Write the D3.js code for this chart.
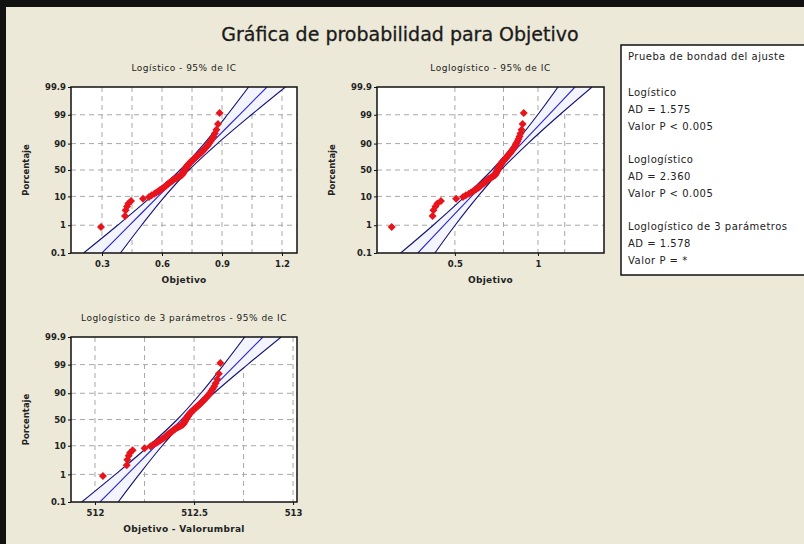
<!DOCTYPE html>
<html>
<head>
<meta charset="utf-8">
<script src="https://cdn.jsdelivr.net/npm/d3@7"></script>
<style>
  body { margin: 0; background: #ece9d8; }
  text { font-family: "DejaVu Sans", sans-serif; }
</style>
</head>
<body>
<div id="chart"></div>
<script>
// percent scale ticks
const pctTicks = [0.1, 1, 10, 50, 90, 99, 99.9];
const pctLabels = ["0.1", "1", "10", "50", "90", "99", "99.9"];

// sample values (sorted)
const objetivo = [
  0.295, 0.415, 0.418, 0.425, 0.432, 0.445, 0.505, 0.535, 0.548, 0.562,
  0.572, 0.582, 0.590, 0.598, 0.606, 0.612, 0.618, 0.622, 0.628, 0.633,
  0.638, 0.643, 0.648, 0.652, 0.657, 0.662, 0.668, 0.674, 0.680, 0.686,
  0.692, 0.698, 0.700, 0.702, 0.704, 0.705, 0.707, 0.709, 0.710, 0.712,
  0.714, 0.716, 0.718, 0.720, 0.722, 0.724, 0.726, 0.728, 0.730, 0.733,
  0.736, 0.739, 0.742, 0.745, 0.749, 0.753, 0.757, 0.761, 0.765, 0.769,
  0.773, 0.778, 0.783, 0.788, 0.793, 0.798, 0.803, 0.808, 0.813, 0.819,
  0.825, 0.831, 0.837, 0.843, 0.850, 0.857, 0.864, 0.872, 0.880, 0.888
];
const valorUmbral = -511.745;

// fitted line and 95% CI, read at the percent ticks
const logCenter = [0.300, 0.438, 0.581, 0.7125, 0.844, 0.987, 1.125];
const logLeft   = [0.208, 0.378, 0.548, 0.6905, 0.811, 0.927, 1.033];
const logRight  = [0.392, 0.498, 0.614, 0.7345, 0.877, 1.047, 1.217];

const llCenter = [0.367, 0.457, 0.574, 0.707, 0.871, 1.094, 1.362];
const llLeft   = [0.318, 0.417, 0.544, 0.681, 0.825, 0.998, 1.182];
const llRight  = [0.423, 0.501, 0.606, 0.734, 0.919, 1.199, 1.570];

const ll3Center = [512.025, 512.163, 512.306, 512.437, 512.567, 512.710, 512.848];
const ll3Left   = [511.933, 512.103, 512.273, 512.415, 512.534, 512.650, 512.756];
const ll3Right  = [512.117, 512.223, 512.339, 512.459, 512.600, 512.770, 512.940];

// goodness of fit box
const gofLines = [
  "Prueba de bondad del ajuste", "",
  "Logístico", "AD = 1.575", "Valor P < 0.005", "",
  "Loglogístico", "AD = 2.360", "Valor P < 0.005", "",
  "Loglogístico de 3 parámetros", "AD = 1.578", "Valor P = *"
];

const W = 804, H = 544;
const svg = d3.select("#chart").append("svg")
  .attr("width", W)
  .attr("height", H);

svg.append("rect").attr("width", W).attr("height", H).attr("fill", "#ece9d8");
// dark frame on top / left
svg.append("rect").attr("x", 0).attr("y", 0).attr("width", W).attr("height", 7).attr("fill", "#111");
svg.append("rect").attr("x", 0).attr("y", 0).attr("width", 6).attr("height", H).attr("fill", "#111");

svg.append("text")
  .attr("x", 400)
  .attr("y", 41)
  .attr("text-anchor", "middle")
  .style("font-size", "19px")
  .attr("fill", "#1a1a1a")
  .attr("stroke", "#1a1a1a")
  .attr("stroke-width", 0.3)
  .text("Gráfica de probabilidad para Objetivo");

const logit = p => Math.log(p / (1 - p));
const n = objetivo.length;
const rankPct = objetivo.map((v, i) => (i + 1 - 0.3) / (n + 0.4));

function drawPanel(cfg, idx) {
  const { x0, x1, y0, y1 } = cfg.box;
  const x = cfg.xScale.range([x0, x1]);
  const y = d3.scaleLinear()
    .domain([logit(0.001), logit(0.999)])
    .range([y1, y0]);

  const g = svg.append("g");

  g.append("rect")
    .attr("x", x0).attr("y", y0)
    .attr("width", x1 - x0).attr("height", y1 - y0)
    .attr("fill", "#fff");

  const clipId = "clip" + idx;
  svg.append("clipPath").attr("id", clipId)
    .append("rect")
    .attr("x", x0).attr("y", y0)
    .attr("width", x1 - x0).attr("height", y1 - y0);

  // grid
  g.selectAll(".hgrid")
    .data(pctTicks.slice(1, -1))
    .enter().append("line")
    .attr("x1", x0).attr("x2", x1)
    .attr("y1", d => y(logit(d / 100)))
    .attr("y2", d => y(logit(d / 100)))
    .attr("stroke", "#a8a8a8")
    .attr("stroke-dasharray", "5,4");

  g.selectAll(".vgrid")
    .data(cfg.xGrid)
    .enter().append("line")
    .attr("x1", d => x(d)).attr("x2", d => x(d))
    .attr("y1", y0).attr("y2", y1)
    .attr("stroke", "#a8a8a8")
    .attr("stroke-dasharray", "5,4");

  const fit = pctTicks.map((p, i) => ({
    p: p,
    c: cfg.center[i],
    l: cfg.left[i],
    r: cfg.right[i]
  }));

  const inner = g.append("g").attr("clip-path", `url(#${clipId})`);

  inner.append("path")
    .datum(fit)
    .attr("fill", "#f4f4ff")
    .attr("d", d3.area()
      .y(d => y(logit(d.p / 100)))
      .x0(d => x(d.l))
      .x1(d => x(d.r))
      .curve(d3.curveCatmullRom));

  ["l", "r", "c"].forEach(k => {
    inner.append("path")
      .datum(fit)
      .attr("fill", "none")
      .attr("stroke", k === "c" ? "#2626c8" : "#121270")
      .attr("stroke-width", 1.1)
      .attr("d", d3.line()
        .x(d => x(d[k]))
        .y(d => y(logit(d.p / 100)))
        .curve(d3.curveCatmullRom));
  });

  // points
  inner.selectAll(".pt")
    .data(cfg.values)
    .enter().append("path")
    .attr("transform", (d, i) => `translate(${x(d)},${y(logit(rankPct[i]))}) rotate(45)`)
    .attr("d", d3.symbol().type(d3.symbolSquare).size(32))
    .attr("fill", "#e8141c");

  // box
  g.append("rect")
    .attr("x", x0).attr("y", y0)
    .attr("width", x1 - x0).attr("height", y1 - y0)
    .attr("fill", "none")
    .attr("stroke", "#111")
    .attr("stroke-width", 1.5);

  // axes
  const yAxis = g.append("g")
    .attr("transform", `translate(${x0},0)`)
    .call(d3.axisLeft(y)
      .tickValues(pctTicks.map(p => logit(p / 100)))
      .tickFormat((d, i) => pctLabels[i])
      .tickSize(3)
      .tickPadding(2));
  yAxis.select(".domain").remove();

  const xAxis = g.append("g")
    .attr("transform", `translate(0,${y1})`)
    .call(d3.axisBottom(x)
      .tickValues(cfg.xTicks)
      .tickFormat((d, i) => cfg.xLabels[i])
      .tickSize(3)
      .tickPadding(5));
  xAxis.select(".domain").remove();

  g.selectAll(".tick text")
    .style("font-size", "8.5px")
    .style("font-weight", "bold")
    .attr("fill", "#222");
  g.selectAll(".tick line").attr("stroke", "#111");

  // titles
  g.append("text")
    .attr("x", (x0 + x1) / 2)
    .attr("y", y0 - 16)
    .attr("text-anchor", "middle")
    .style("font-size", "9px")
    .style("letter-spacing", "0.5px")
    .attr("fill", "#222")
    .text(cfg.title);

  g.append("text")
    .attr("x", (x0 + x1) / 2)
    .attr("y", y1 + 30)
    .attr("text-anchor", "middle")
    .style("font-size", "9px")
    .style("font-weight", "bold")
    .style("letter-spacing", "0.3px")
    .attr("fill", "#222")
    .text(cfg.xTitle);

  g.append("text")
    .attr("transform", "rotate(-90)")
    .attr("x", -(y0 + y1) / 2)
    .attr("y", x0 - 42)
    .attr("text-anchor", "middle")
    .style("font-size", "8.5px")
    .style("font-weight", "bold")
    .attr("fill", "#222")
    .text("Porcentaje");
}

drawPanel({
  box: { x0: 71, x1: 297, y0: 87, y1: 253 },
  xScale: d3.scaleLinear().domain([0.145, 1.275]),
  xTicks: [0.3, 0.6, 0.9, 1.2],
  xLabels: ["0.3", "0.6", "0.9", "1.2"],
  xGrid: [0.3, 0.45, 0.6, 0.75, 0.9, 1.05, 1.2],
  title: "Logístico - 95% de IC",
  xTitle: "Objetivo",
  values: objetivo,
  center: logCenter, left: logLeft, right: logRight
}, 1);

drawPanel({
  box: { x0: 377, x1: 604, y0: 87, y1: 253 },
  xScale: d3.scaleLog().domain([0.261, 1.735]),
  xTicks: [0.5, 1],
  xLabels: ["0.5", "1"],
  xGrid: [0.5, 0.75, 1, 1.25],
  title: "Loglogístico - 95% de IC",
  xTitle: "Objetivo",
  values: objetivo,
  center: llCenter, left: llLeft, right: llRight
}, 2);

drawPanel({
  box: { x0: 71, x1: 297, y0: 337, y1: 502 },
  xScale: d3.scaleLog().domain([511.879, 513.02]),
  xTicks: [512, 512.5, 513],
  xLabels: ["512", "512.5", "513"],
  xGrid: [512, 512.25, 512.5, 512.75, 513],
  title: "Loglogístico de 3 parámetros - 95% de IC",
  xTitle: "Objetivo - Valorumbral",
  values: objetivo.map(v => v - valorUmbral),
  center: ll3Center, left: ll3Left, right: ll3Right
}, 3);

// goodness of fit table
const gof = svg.append("g").attr("transform", "translate(621,45)");
gof.append("rect")
  .attr("width", 200)
  .attr("height", 230)
  .attr("fill", "#fff")
  .attr("stroke", "#111")
  .attr("stroke-width", 1.5);

gof.selectAll("text")
  .data(gofLines)
  .enter().append("text")
  .attr("x", 7)
  .attr("y", (d, i) => i === 0 ? 15 : 51 + (i - 2) * 16.8)
  .style("font-size", "10px")
  .style("letter-spacing", "0.5px")
  .attr("fill", "#222")
  .text(d => d);
</script>
</body>
</html>
